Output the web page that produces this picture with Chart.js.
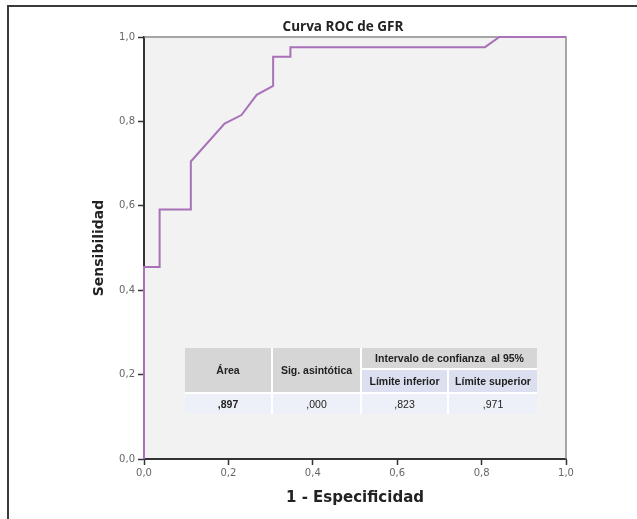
<!DOCTYPE html>
<html>
<head>
<meta charset="utf-8">
<script src="https://cdn.jsdelivr.net/npm/chart.js@4.4.0/dist/chart.umd.min.js"></script>
<style>
html,body{margin:0;padding:0;background:#fff;}
#wrap{position:relative;width:637px;height:519px;overflow:hidden;}
#frame{position:absolute;left:7px;top:5px;width:700px;height:600px;border-top:2px solid #3a3a3a;border-left:2px solid #3a3a3a;pointer-events:none;}
#tbl{position:absolute;left:185px;top:348px;width:352px;border-collapse:collapse;border-style:hidden;font-family:"Liberation Sans",Arial,sans-serif;font-size:10.5px;color:#222;table-layout:fixed;}
#tbl td{border:2px solid #fff;text-align:center;padding:0;white-space:nowrap;}
.h{background:#d6d6d6;font-weight:bold;}
.s{background:#dcdff0;font-weight:bold;}
.d{background:#edf0f8;}
</style>
</head>
<body>
<div id="wrap">
<canvas id="c" width="637" height="519"></canvas>
<div id="frame"></div>
<table id="tbl">
<colgroup><col style="width:87px"><col style="width:89px"><col style="width:87px"><col style="width:89px"></colgroup>
<tr style="height:21px"><td class="h" rowspan="2">Área</td><td class="h" rowspan="2">Sig. asintótica</td><td class="h" colspan="2">Intervalo de confianza&nbsp; al 95%</td></tr>
<tr style="height:24px"><td class="s">Límite inferior</td><td class="s">Límite superior</td></tr>
<tr style="height:21px"><td class="d" style="font-weight:bold">,897</td><td class="d">,000</td><td class="d">,823</td><td class="d">,971</td></tr>
</table>
</div>
<script>
const chartTitle = "Curva ROC de GFR";
const xTitle = "1 - Especificidad";
const yTitle = "Sensibilidad";
const fpr = [0, 0, 0.037, 0.037, 0.111, 0.111, 0.191, 0.231, 0.267, 0.306, 0.306, 0.347, 0.347, 0.808, 0.842, 1.0];
const tpr = [0, 0.455, 0.455, 0.591, 0.591, 0.705, 0.795, 0.815, 0.863, 0.884, 0.953, 0.953, 0.976, 0.976, 1.0, 1.0];
const tickValues = [0, 0.2, 0.4, 0.6, 0.8, 1.0];
const tickLabels = ["0,0", "0,2", "0,4", "0,6", "0,8", "1,0"];

const points = fpr.map((x, i) => ({x: x, y: tpr[i]}));

const plotBg = {
  id: 'plotBg',
  beforeDraw(chart) {
    const {ctx, chartArea: a} = chart;
    ctx.save();
    ctx.fillStyle = '#f2f2f2';
    ctx.fillRect(a.left, a.top, a.right - a.left, a.bottom - a.top);
    ctx.restore();
  },
  beforeDatasetsDraw(chart) {
    const {ctx, chartArea: a} = chart;
    ctx.save();
    ctx.strokeStyle = '#8a8a8a';
    ctx.lineWidth = 1.5;
    ctx.beginPath();
    ctx.moveTo(a.left, a.top);
    ctx.lineTo(a.right, a.top);
    ctx.lineTo(a.right, a.bottom);
    ctx.stroke();
    ctx.restore();
  },
  afterDraw(chart) {
    const {ctx} = chart;
    ctx.save();
    ctx.fillStyle = '#222';
    ctx.font = 'bold 13.5px "Open Sans", sans-serif';
    ctx.textAlign = 'center';
    ctx.textBaseline = 'alphabetic';
    ctx.fillText(chartTitle, 343, 31);
    ctx.restore();
  }
};

new Chart(document.getElementById('c'), {
  type: 'scatter',
  data: {
    datasets: [{
      data: points,
      showLine: true,
      borderColor: '#a871b8',
      backgroundColor: '#a871b8',
      borderWidth: 2,
      pointRadius: 0,
      tension: 0,
      clip: false
    }]
  },
  options: {
    responsive: false,
    animation: false,
    layout: {padding: {left: 80, right: 71, top: 37, bottom: 0}},
    plugins: {legend: {display: false}, title: {display: false}, tooltip: {enabled: false}},
    scales: {
      x: {
        type: 'linear', min: 0, max: 1,
        afterBuildTicks(s) { s.ticks = tickValues.map(v => ({value: v})); },
        afterFit(s) { s.height = 60; },
        ticks: {
          callback: (v) => tickLabels[tickValues.findIndex(t => Math.abs(t - v) < 1e-9)],
          font: {family: '"DejaVu Sans", sans-serif', size: 10},
          color: '#666', padding: 2, maxRotation: 0
        },
        grid: {drawOnChartArea: false, drawTicks: true, tickLength: 6, color: '#333', tickWidth: 1.5},
        border: {display: true, color: '#333', width: 2},
        title: {display: true, text: xTitle, font: {family: '"DejaVu Sans", sans-serif', size: 15, weight: 'bold'}, color: '#222', padding: {top: 0, bottom: 12}}
      },
      y: {
        type: 'linear', min: 0, max: 1,
        afterBuildTicks(s) { s.ticks = tickValues.map(v => ({value: v})); },
        afterFit(s) { s.width = 64; },
        ticks: {
          callback: (v) => tickLabels[tickValues.findIndex(t => Math.abs(t - v) < 1e-9)],
          font: {family: '"DejaVu Sans", sans-serif', size: 10},
          color: '#666', padding: 3
        },
        grid: {drawOnChartArea: false, drawTicks: true, tickLength: 6, color: '#333', tickWidth: 1.5},
        border: {display: true, color: '#333', width: 2},
        title: {display: true, text: yTitle, font: {family: '"DejaVu Sans", sans-serif', size: 14, weight: 'bold'}, color: '#222', padding: {top: 11, bottom: 0}}
      }
    }
  },
  plugins: [plotBg]
});
</script>
</body>
</html>
